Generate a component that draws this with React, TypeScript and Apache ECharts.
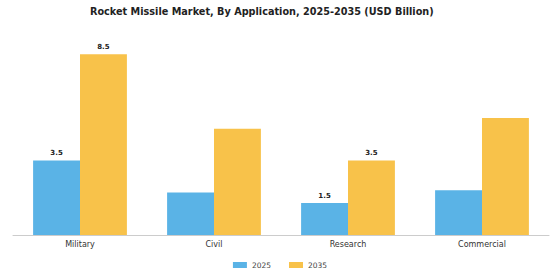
import React, { useEffect, useRef } from "react";
import * as echarts from "echarts";

const categories = ["Military", "Civil", "Research", "Commercial"];
const values2025 = [3.5, 2.0, 1.5, 2.1];
const values2035 = [8.5, 5.0, 3.5, 5.5];
const labeled2025 = [true, false, true, false];
const labeled2035 = [true, false, true, false];

const FONT = "DejaVu Sans";

function mk(values: number[], flags: boolean[]) {
  return values.map((v, i) => ({
    value: v,
    label: {
      show: flags[i],
      position: "top",
      distance: 4,
      fontSize: 7,
      fontWeight: "bold",
      color: "#222",
      fontFamily: FONT,
    },
  }));
}

export default function App() {
  const ref = useRef<HTMLDivElement>(null);
  useEffect(() => {
    const chart = echarts.init(ref.current!, undefined, { renderer: "svg" });
    chart.setOption({
      animation: false,
      backgroundColor: "#fff",
      title: {
        text: "Rocket Missile Market, By Application, 2025-2035 (USD Billion)",
        left: 85,
        top: 1,
        textStyle: { fontFamily: FONT, fontSize: 9.7, fontWeight: "bold", color: "#222" },
      },
      legend: {
        bottom: 6,
        left: "center",
        itemWidth: 14,
        itemHeight: 6,
        itemGap: 18,
        icon: "rect",
        textStyle: { fontFamily: FONT, fontSize: 7.5, color: "#444" },
        data: ["2025", "2035"],
      },
      grid: { left: 13, right: 11, top: 33, bottom: 45, containLabel: false },
      xAxis: {
        type: "category",
        data: categories,
        axisLine: { lineStyle: { color: "#ccc" } },
        axisTick: { show: false },
        axisLabel: { fontFamily: FONT, fontSize: 8, color: "#333", margin: 5 },
      },
      yAxis: {
        type: "value",
        min: 0,
        max: 9.5,
        show: false,
        splitLine: { show: false },
      },
      series: [
        {
          name: "2025",
          type: "bar",
          data: mk(values2025, labeled2025),
          barWidth: "35%",
          barGap: "0%",
          itemStyle: { color: "#5AB3E6" },
        },
        {
          name: "2035",
          type: "bar",
          data: mk(values2035, labeled2035),
          barWidth: "35%",
          barGap: "0%",
          itemStyle: { color: "#F8C24A" },
        },
      ],
    });
    return () => chart.dispose();
  }, []);
  return <div ref={ref} style={{ width: 560, height: 280, position: "absolute", left: 0, top: 0 }} />;
}
